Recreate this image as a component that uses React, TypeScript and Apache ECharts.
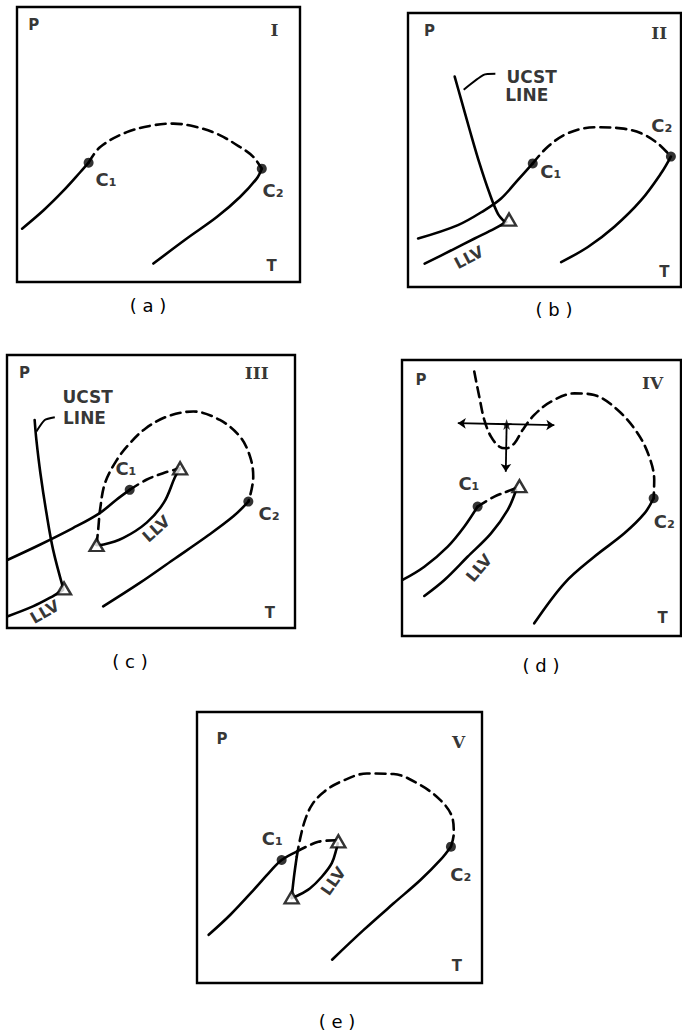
import React, { useEffect, useRef } from "react";
import * as echarts from "echarts";

// ---------- Panel (a) : type I ----------
const aLeft = [[1.8, 19.4], [9.4, 26.1], [16.5, 33.3], [22.4, 40], [25.3, 43.4]];
const aDash = [[25.3, 43.4], [29.4, 49.1], [38.8, 54.5], [48.2, 57], [55.3, 57.6], [62.4, 56.6], [70.6, 53.9], [78.8, 49.1], [83.5, 45.5], [86.5, 41.2]];
const aRight = [[86.5, 41.2], [84.7, 37.6], [78.8, 30.9], [70.6, 23.6], [60, 15.8], [48.2, 6.7]];
const aCrit = [[25.3, 43.4], [86.5, 41.2]];
const aTexts = [
  { t: "P", k: "axis", v: [5.9, 93.3] },
  { t: "I", k: "roman", v: [91, 91.5] },
  { t: "T", k: "axis", v: [90, 6] },
  { t: "C₁", k: "crit", v: [31.5, 37.3] },
  { t: "C₂", k: "crit", v: [90.5, 33.1] },
];

// ---------- Panel (b) : type II ----------
const bUpper = [[3.7, 17.7], [18.3, 22.6], [28, 28], [34.1, 32.3], [40.2, 39], [45.7, 45.1]];
const bDash = [[45.7, 45.1], [51.2, 51.2], [58.5, 56.1], [68.3, 58.3], [78, 57.9], [85.4, 56.1], [91.5, 52.4], [96.3, 47.6]];
const bRight = [[96.3, 47.6], [92.7, 41.5], [85.4, 31.7], [75.6, 22], [65.9, 14.6], [56.1, 9.1]];
const bLLV = [[6.1, 8.5], [15.9, 13.4], [24.4, 17.7], [31.7, 21.3], [36, 23.8]];
const bUCST = [[17.1, 76.8], [19.5, 68.3], [22.6, 57.3], [26.2, 45.1], [29.9, 34.1], [32.9, 26.8], [35.4, 23.8]];
const bLeader = [[20.4, 72], [27.7, 77.4], [32, 77.8]];
const bCrit = [[45.7, 45.1], [96.3, 47.6]];
const bTri = [[37, 24.6]];
const bTexts = [
  { t: "P", k: "axis", v: [7.9, 93.3] },
  { t: "II", k: "roman", v: [92, 92.7] },
  { t: "T", k: "axis", v: [93.9, 5.5] },
  { t: "C₁", k: "crit", v: [52.3, 42] },
  { t: "C₂", k: "crit", v: [93, 58.8] },
  { t: "UCST", k: "note", v: [45.3, 76.6] },
  { t: "LINE", k: "note", v: [43.5, 69.9] },
  { t: "LLV", k: "llv", v: [22.3, 10.8], r: 28 },
];

// ---------- Panel (c) : type III ----------
const cUpper = [[0.3, 25], [11.4, 30.5], [22.9, 36.6], [32.2, 42.1], [38, 47], [42.6, 50.6]];
const cShortDash = [[42.6, 50.6], [48.4, 54.3], [54.2, 56.7], [60, 58.5]];
const cLoopLLV = [[60, 58.5], [58.3, 55.2], [54.5, 46], [48.5, 38.6], [40.4, 33], [33.6, 30.6], [31.1, 30.4]];
const cDash = [[31.1, 30.4], [31.7, 36.5], [32.3, 43.2], [34, 53], [38.1, 61.5], [42.7, 67.7], [48, 73], [55.4, 77.4], [64.7, 79.3], [73.9, 76.2], [80.9, 70.1], [84.4, 62.8], [85.5, 55.5], [84.9, 50.6], [83.8, 46.3]];
const cRight = [[83.8, 46.3], [78.6, 40.9], [69.3, 33.5], [57.7, 25], [46.1, 16.5], [33.4, 7.9]];
const cLowerLLV = [[0.3, 4.3], [9, 7.9], [14.8, 11], [19.5, 14]];
const cUCST = [[9.6, 76.2], [10.2, 68.9], [11.6, 56.7], [13.7, 42.1], [16, 28.7], [19.5, 14.6]];
const cLeader = [[10.2, 72], [13.1, 76.2], [16.6, 77.2]];
const cCrit = [[42.6, 50.6], [83.8, 46.3]];
const cTri = [[60.1, 58.5], [31.1, 30.4], [19.8, 14.5]];
const cTexts = [
  { t: "P", k: "axis", v: [6.1, 93.3] },
  { t: "III", k: "roman", v: [86.7, 93.3] },
  { t: "T", k: "axis", v: [91.3, 5.5] },
  { t: "C₁", k: "crit", v: [41.3, 58.5] },
  { t: "C₂", k: "crit", v: [91, 41.8] },
  { t: "UCST", k: "note", v: [28, 84.5] },
  { t: "LINE", k: "note", v: [26.9, 76.8] },
  { t: "LLV", k: "llv", v: [51.8, 36.3], r: 42 },
  { t: "LLV", k: "llv", v: [13.1, 5.9], r: 30 },
];

// ---------- Panel (d) : type IV ----------
const dUpper = [[0.2, 20.3], [8, 25.1], [16.4, 32.4], [22.3, 39.6], [27.1, 46.9]];
const dShortDash = [[27.1, 46.9], [33.1, 50.5], [39.1, 52.9], [42.1, 54.1]];
const dLLV = [[40.9, 52.9], [37.9, 45.7], [31.9, 37.2], [23.5, 28.7], [15.2, 20.3], [8, 14.5]];
const dDash = [[25.9, 95.8], [27.7, 86.7], [29.5, 78.3], [31.9, 72.2], [34.9, 68.6], [37.3, 68], [40.3, 69.8], [43.2, 74.6], [47.4, 80.1], [53.4, 84.9], [61.8, 87.9], [68.9, 87.3], [77.3, 81.9], [84.5, 73.4], [88.6, 65], [90.4, 56.5], [90.2, 49.9]];
const dRight = [[90.2, 49.9], [86.9, 44.4], [79.7, 37.2], [68.9, 28.7], [58.2, 19.1], [47.4, 4.6]];
const dCrit = [[27.1, 46.9], [90.2, 49.9]];
const dTri = [[42.1, 54.3]];
const dArrowH = [[20, 77.1], [54.6, 76.4]];
const dArrowV = [[37.5, 76.6], [37.2, 59.5]];
const dStar = [[37.5, 76.6]];
const dTexts = [
  { t: "P", k: "axis", v: [6.8, 92.8] },
  { t: "IV", k: "roman", v: [89.8, 91.5] },
  { t: "T", k: "axis", v: [93.4, 6.4] },
  { t: "C₁", k: "crit", v: [24, 55.3] },
  { t: "C₂", k: "crit", v: [94, 41.4] },
  { t: "LLV", k: "llv", v: [27.6, 24.6], r: 50 },
];

// ---------- Panel (e) : type V ----------
const eLeft = [[4.1, 17.8], [11.7, 25.2], [19.9, 34.4], [25.7, 41.2], [29.7, 45.4], [35, 48.5]];
const eShortDash = [[35, 48.5], [42.6, 52.1], [48.8, 52.7]];
const eLLV = [[49.4, 51.6], [49, 49.7], [47.3, 44.2], [43.8, 39.2], [39.6, 34.9], [35, 32.1], [33.4, 31.5]];
const eLoopSolid = [[33.2, 31.3], [34, 39], [35, 46.6]];
const eDash = [[35, 46.6], [36.1, 52.8], [37.9, 60.1], [40.5, 66], [44.5, 70.5], [50.3, 74.2], [59.6, 77.3], [69, 77.1], [78.4, 73], [85.4, 67.5], [89.5, 61.3], [90.1, 55.2], [89.1, 50.3]];
const eRight = [[89.1, 50.3], [85.4, 45.4], [78.4, 38], [69, 29.4], [58.5, 19.6], [47.4, 8.6]];
const eCrit = [[29.7, 45.4], [89.1, 50.3]];
const eTri = [[49.6, 52.3], [33.2, 31.6]];
const eTexts = [
  { t: "P", k: "axis", v: [8.8, 90.2] },
  { t: "V", k: "roman", v: [91.8, 89] },
  { t: "T", k: "axis", v: [91.2, 6.1] },
  { t: "C₁", k: "crit", v: [26.4, 53.3] },
  { t: "C₂", k: "crit", v: [92.6, 39.9] },
  { t: "LLV", k: "llv", v: [47.8, 37.6], r: 55 },
];

const panelCaptions = ["( a )", "( b )", "( c )", "( d )", "( e )"];

const SANS = "'DejaVu Sans', 'Liberation Sans', sans-serif";
const SERIF = "'DejaVu Serif', 'Liberation Serif', serif";
const INK = "#000";

const gridBoxes = [
  { left: 17, top: 7, width: 283, height: 275 },
  { left: 408, top: 13, width: 273, height: 274 },
  { left: 7, top: 355, width: 288, height: 273 },
  { left: 402, top: 360, width: 279, height: 276 },
  { left: 197, top: 712, width: 285, height: 271 },
];
const captionPos = [
  [148, 305],
  [554, 309],
  [130, 661],
  [541, 665],
  [337, 1021],
];

function curve(g: number, data: number[][], dashed = false): any {
  return {
    type: "line",
    xAxisIndex: g,
    yAxisIndex: g,
    data,
    smooth: 0.35,
    symbol: "none",
    showSymbol: false,
    silent: true,
    z: 3,
    lineStyle: { color: INK, width: 2.6, type: dashed ? [10, 6] : "solid", cap: "round" },
  };
}

function thin(g: number, data: number[][]): any {
  return {
    type: "line",
    xAxisIndex: g,
    yAxisIndex: g,
    data,
    smooth: 0.2,
    symbol: "none",
    showSymbol: false,
    silent: true,
    z: 3,
    lineStyle: { color: INK, width: 2 },
  };
}

function crit(g: number, data: number[][]): any {
  return {
    type: "scatter",
    xAxisIndex: g,
    yAxisIndex: g,
    data,
    symbol: "circle",
    symbolSize: 10,
    silent: true,
    z: 6,
    itemStyle: { color: INK },
  };
}

function tri(g: number, data: number[][]): any {
  return {
    type: "scatter",
    xAxisIndex: g,
    yAxisIndex: g,
    data,
    symbol: "triangle",
    symbolSize: [14, 12],
    silent: true,
    z: 7,
    itemStyle: { color: "#fff", borderColor: INK, borderWidth: 2.4 },
  };
}

function texts(g: number, items: any[]): any {
  const styleFor = (k: string) => {
    if (k === "roman") return { fontFamily: SERIF, fontWeight: "bold", fontSize: 17 };
    if (k === "crit") return { fontFamily: SANS, fontWeight: "bold", fontSize: 18 };
    if (k === "note") return { fontFamily: SANS, fontWeight: "bold", fontSize: 17 };
    if (k === "llv") return { fontFamily: SANS, fontWeight: "bold", fontSize: 16 };
    return { fontFamily: SANS, fontWeight: "bold", fontSize: 15 };
  };
  return {
    type: "scatter",
    xAxisIndex: g,
    yAxisIndex: g,
    symbolSize: 1,
    silent: true,
    z: 8,
    itemStyle: { color: "transparent" },
    data: items.map((it) => ({
      value: it.v,
      label: {
        show: true,
        position: "inside",
        formatter: it.t,
        color: INK,
        rotate: it.r || 0,
        ...styleFor(it.k),
      },
    })),
  };
}

function arrow(g: number, coords: number[][], both: boolean): any {
  return {
    type: "lines",
    coordinateSystem: "cartesian2d",
    xAxisIndex: g,
    yAxisIndex: g,
    silent: true,
    z: 5,
    symbol: both ? ["arrow", "arrow"] : ["none", "arrow"],
    symbolSize: 8,
    lineStyle: { color: INK, width: 1.8, opacity: 1, curveness: 0 },
    data: [{ coords }],
  };
}

function buildOption(): any {
  const series: any[] = [
    // a
    curve(0, aLeft), curve(0, aDash, true), curve(0, aRight), crit(0, aCrit), texts(0, aTexts),
    // b
    curve(1, bUpper), curve(1, bDash, true), curve(1, bRight), curve(1, bLLV), curve(1, bUCST),
    thin(1, bLeader), crit(1, bCrit), tri(1, bTri), texts(1, bTexts),
    // c
    curve(2, cUpper), curve(2, cShortDash, true), curve(2, cLoopLLV), curve(2, cDash, true),
    curve(2, cRight), curve(2, cLowerLLV), curve(2, cUCST), thin(2, cLeader),
    crit(2, cCrit), tri(2, cTri), texts(2, cTexts),
    // d
    curve(3, dUpper), curve(3, dShortDash, true), curve(3, dLLV), curve(3, dDash, true), curve(3, dRight),
    arrow(3, dArrowH, true), arrow(3, dArrowV, false),
    {
      type: "scatter", xAxisIndex: 3, yAxisIndex: 3, data: dStar, silent: true, z: 6,
      symbol: "path://M0,-10L2.5,-3L10,-3L4,1.5L6,9L0,4.5L-6,9L-4,1.5L-10,-3L-2.5,-3Z",
      symbolSize: 11, itemStyle: { color: INK },
    },
    crit(3, dCrit), tri(3, dTri), texts(3, dTexts),
    // e
    curve(4, eLeft), curve(4, eShortDash, true), curve(4, eLLV), curve(4, eLoopSolid),
    curve(4, eDash, true), curve(4, eRight), crit(4, eCrit), tri(4, eTri), texts(4, eTexts),
  ];

  const axisBase = { type: "value", min: 0, max: 100, show: false };

  return {
    animation: false,
    backgroundColor: "#fff",
    textStyle: { fontFamily: SANS },
    grid: gridBoxes.map((b) => ({
      ...b,
      show: true,
      borderColor: INK,
      borderWidth: 2.4,
      backgroundColor: "transparent",
      containLabel: false,
    })),
    xAxis: gridBoxes.map((_, i) => ({ ...axisBase, gridIndex: i })),
    yAxis: gridBoxes.map((_, i) => ({ ...axisBase, gridIndex: i })),
    graphic: panelCaptions.map((c, i) => ({
      type: "text",
      x: captionPos[i][0],
      y: captionPos[i][1],
      silent: true,
      style: {
        text: c,
        fill: INK,
        font: `18px ${SANS}`,
        align: "center",
        verticalAlign: "middle",
      },
    })),
    series,
  };
}

export default function App() {
  const ref = useRef<HTMLDivElement>(null);
  useEffect(() => {
    if (!ref.current) return;
    const chart = echarts.init(ref.current, undefined, { renderer: "svg" });
    chart.setOption(buildOption());
    return () => chart.dispose();
  }, []);
  return (
    <div
      ref={ref}
      style={{ position: "absolute", left: 0, top: 0, width: 682, height: 1031, background: "#fff" }}
    />
  );
}
